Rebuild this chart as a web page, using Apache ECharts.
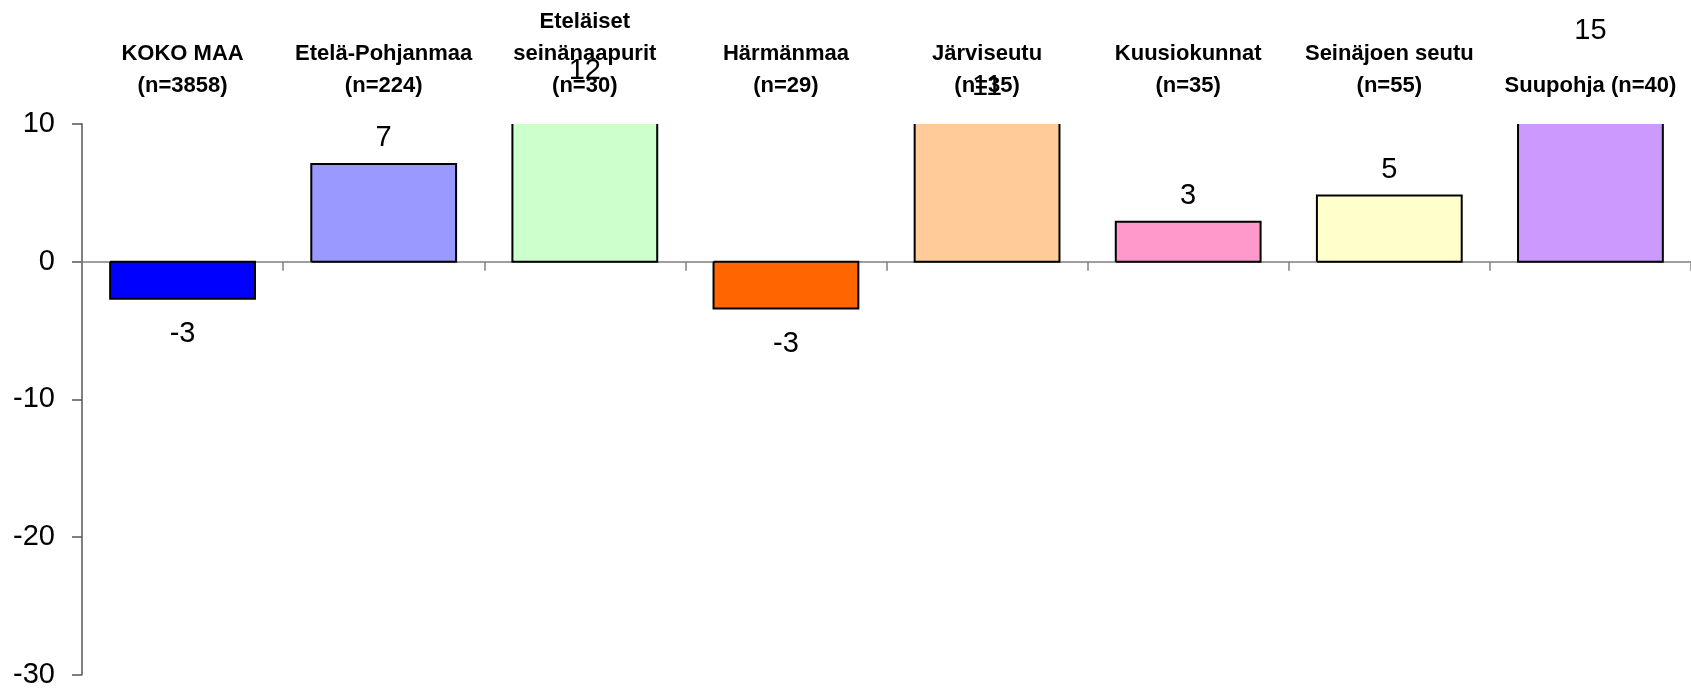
<!DOCTYPE html>
<html>
<head>
<meta charset="utf-8">
<script src="https://cdn.jsdelivr.net/npm/echarts@6/dist/echarts.min.js"></script>
<style>
html, body { margin: 0; padding: 0; background: #fff; }
#main { width: 1691px; height: 689px; }
</style>
</head>
<body>
<div id="main"></div>
<script>
// alueet
var categories = ['KOKO MAA\n(n=3858)', 'Etelä-Pohjanmaa\n(n=224)', 'Eteläiset\nseinänaapurit\n(n=30)',
    'Härmänmaa\n(n=29)', 'Järviseutu\n(n=35)', 'Kuusiokunnat\n(n=35)', 'Seinäjoen seutu\n(n=55)', 'Suupohja (n=40)'];
var values = [-2.7, 7.1, 12, -3.4, 10.8, 2.9, 4.8, 14.9];
var barColors = ['#0000FF', '#9999FF', '#CCFFCC', '#FF6600', '#FFCC99', '#FF99CC', '#FFFFCC', '#CC99FF'];
var yTicks = [-30, -20, -10, 0, 10];

var fontName = '"Liberation Sans", Arial, sans-serif';
var yMin = yTicks[0];
var yMax = yTicks[yTicks.length - 1];

var barData = [];
var labelData = [];
for (var i = 0; i < values.length; i++) {
    barData.push([i, values[i]]);
    labelData.push({
        value: [i, values[i]],
        label: { position: values[i] < 0 ? 'bottom' : 'top', distance: values[i] < 0 ? 21 : 11 }
    });
}

// pylväs, joka leikataan akselin ylärajaan (yläreuna auki)
function renderBar(params, api) {
    var idx = api.value(0);
    var v = api.value(1);
    var vc = Math.max(yMin, Math.min(yMax, v));
    var clipped = vc !== v;
    var base = api.coord([idx, 0]);
    var end = api.coord([idx, vc]);
    var bw = api.size([1, 0])[0] * 0.72;
    var x0 = base[0] - bw / 2, x1 = base[0] + bw / 2;
    var pts = clipped
        ? [[x0, end[1]], [x0, base[1]], [x1, base[1]], [x1, end[1]]]
        : [[x0, base[1]], [x0, end[1]], [x1, end[1]], [x1, base[1]], [x0, base[1]]];
    return {
        type: 'group',
        children: [{
            type: 'rect',
            shape: { x: x0, y: Math.min(base[1], end[1]), width: bw, height: Math.abs(base[1] - end[1]) },
            style: { fill: barColors[params.dataIndex] }
        }, {
            type: 'polyline',
            shape: { points: pts },
            style: { stroke: '#000', lineWidth: 2, fill: null }
        }]
    };
}

var chart = echarts.init(document.getElementById('main'));
var option = {
    animation: false,
    grid: { left: 82, top: 124, width: 1612, bottom: 12, containLabel: false },
    xAxis: [{
        type: 'category',
        data: categories,
        axisLine: { onZero: true, lineStyle: { color: '#808080', width: 1.5 } },
        axisTick: { show: true, length: 9, lineStyle: { color: '#808080', width: 1.5 } },
        axisLabel: { show: false }
    }, {
        type: 'category',
        data: categories,
        position: 'top',
        axisLine: { show: false, onZero: false },
        axisTick: { show: false },
        axisLabel: {
            interval: 0,
            margin: 22,
            color: '#000',
            fontFamily: fontName,
            fontWeight: 'bold',
            fontSize: 22,
            lineHeight: 32
        }
    }],
    yAxis: {
        type: 'value',
        min: yMin,
        max: yMax,
        interval: 10,
        splitLine: { show: false },
        axisLine: { show: true, lineStyle: { color: '#808080', width: 2 } },
        axisTick: { show: true, length: 10, lineStyle: { color: '#555', width: 1.5 } },
        axisLabel: { margin: 27, color: '#000', fontFamily: fontName, fontSize: 29 }
    },
    series: [{
        type: 'custom',
        data: barData,
        renderItem: renderBar,
        encode: { x: 0, y: 1 },
        silent: true,
        z: 2
    }, {
        // arvojen tekstit, ei leikata
        type: 'scatter',
        data: labelData,
        symbolSize: 0,
        clip: false,
        silent: true,
        z: 5,
        itemStyle: { opacity: 1 },
        label: {
            show: true,
            color: '#000',
            fontFamily: fontName,
            fontSize: 29,
            formatter: function(p) { return Math.round(p.value[1]); }
        }
    }]
};
chart.setOption(option);
</script>
</body>
</html>
